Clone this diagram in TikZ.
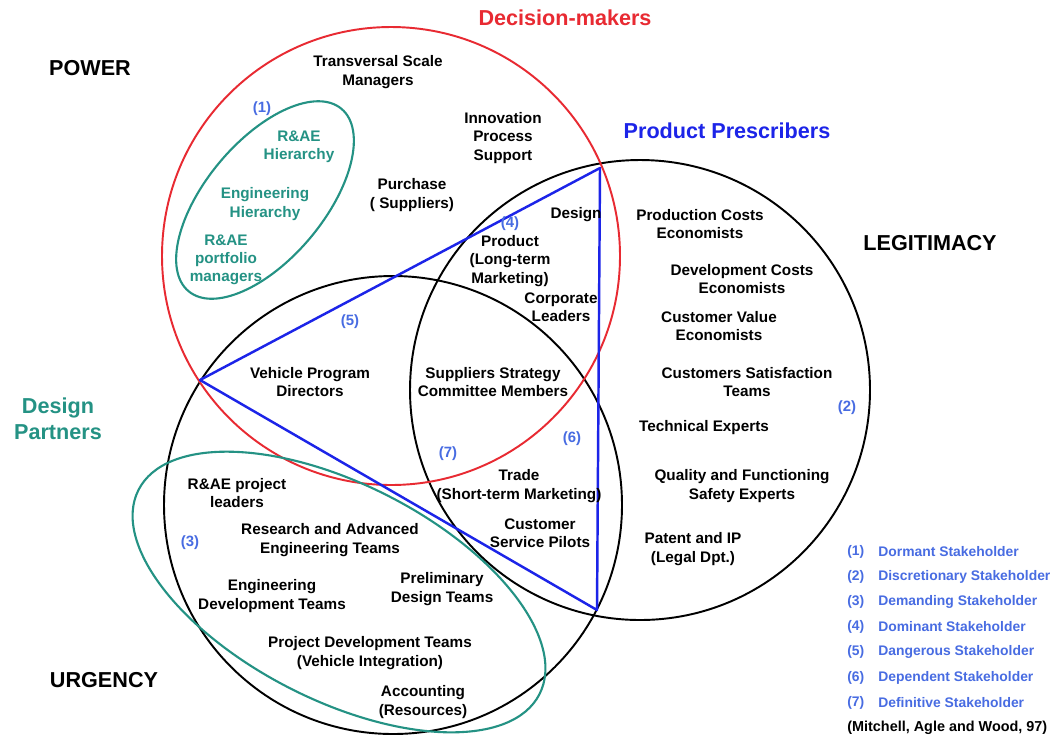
\documentclass[tikz,border=0pt]{standalone}
\usepackage{fontspec}
\setmainfont{Liberation Sans}
\usepackage{tikz}
\usetikzlibrary{arrows.meta}

\definecolor{powerred}{RGB}{232,42,50}
\definecolor{partnerteal}{RGB}{36,146,132}
\definecolor{prescblue}{RGB}{28,36,232}
\definecolor{typeblue}{RGB}{72,108,226}

\begin{document}
\begin{tikzpicture}[x=0.02cm, y=0.02cm,
    actor/.style={align=center, inner sep=0pt, font=\fontsize{8.7}{10.4}\selectfont\bfseries},
    attr/.style={align=center, inner sep=0pt, font=\fontsize{12.3}{14.7}\selectfont\bfseries},
    typenum/.style={inner sep=0pt, text=typeblue, font=\fontsize{8.5}{10}\selectfont\bfseries},
    legend/.style={anchor=west, inner sep=0pt, text=typeblue, font=\fontsize{7.9}{9}\selectfont\bfseries}]

    %% Background
    \useasboundingbox[fill=white] (0,0) rectangle (1053,-738);

    % Attribute circles
    \draw[line width=1.1pt] (640,-390) circle (230);
    \draw[line width=1.1pt] (393,-505) circle (229);
    \draw[powerred, line width=1.1pt] (391,-256) circle (229);

    % Design partners
    \draw[partnerteal, line width=1.2pt, rotate around={50:(265,-200)}]
    (265,-200) ellipse [x radius=119, y radius=59];
    \draw[partnerteal, line width=1.2pt, rotate around={-27:(339,-592)}]
    (339,-592) ellipse [x radius=225, y radius=108];

    % Product prescribers
    \coordinate (top) at (600,-168);
    \coordinate (left) at (200,-380);
    \coordinate (bottom) at (597,-610);
    \draw[prescblue, line width=1.4pt, line join=round] (top) -- (left) -- (bottom) -- cycle;

    % Attributes
    \node[attr, text=powerred] (decision) at (565,-18) {Decision-makers};
    \node[attr] (power) at (90,-68) {POWER};
    \node[attr, text=prescblue] (prescribers) at (727,-131) {Product Prescribers};
    \node[attr] (legitimacy) at (930,-243) {LEGITIMACY};
    \node[attr, text=partnerteal] (partners) at (58,-419) {Design\\Partners};
    \node[attr] (urgency) at (104,-680) {URGENCY};

    % Power
    \node[actor] (transversal) at (378,-72) {Transversal Scale\\Managers};
    \node[actor] (innovation) at (503,-138) {Innovation\\Process\\Support};
    \node[actor] (purchase) at (412,-195) {Purchase\\( Suppliers)};
    \node[actor, text=partnerteal] (raehier) at (299,-147) {R\&AE\\Hierarchy};
    \node[actor, text=partnerteal] (enghier) at (265,-204) {Engineering\\Hierarchy};
    \node[actor, text=partnerteal] (portfolio) at (226,-260) {R\&AE\\portfolio\\managers};

    % Power and legitimacy
    \node[actor] (design) at (576,-215) {Design};
    \node[actor] (product) at (510,-261) {Product\\(Long-term\\Marketing)};
    \node[actor] (corporate) at (561,-307) {Corporate\\Leaders};

    % Legitimacy
    \node[actor] (prodcost) at (700,-224) {Production Costs\\Economists};
    \node[actor] (devcost) at (742,-279) {Development Costs\\Economists};
    \node[actor] (custvalue) at (719,-326) {Customer Value\\Economists};
    \node[actor] (satisfaction) at (747,-382) {Customers Satisfaction\\Teams};
    \node[actor] (technical) at (704,-428) {Technical Experts};
    \node[actor] (quality) at (742,-486) {Quality and Functioning\\Safety Experts};
    \node[actor] (patent) at (693,-549) {Patent and IP\\(Legal Dpt.)};

    % Power and urgency
    \node[actor] (vehicle) at (310,-382) {Vehicle Program\\Directors};
    \node[actor] (committee) at (493,-382) {Suppliers Strategy\\Committee Members};

    % Legitimacy and urgency
    \node[actor] (trade) at (519,-486) {Trade\\(Short-term Marketing)};
    \node[actor] (pilots) at (540,-533) {Customer\\Service Pilots};

    % Urgency
    \node[actor] (projleaders) at (237,-493) {R\&AE project\\leaders};
    \node[actor] (research) at (330,-540) {Research and Advanced\\Engineering Teams};
    \node[actor] (engdev) at (272,-596) {Engineering\\Development Teams};
    \node[actor] (prelim) at (442,-589) {Preliminary\\Design Teams};
    \node[actor] (projdev) at (370,-653) {Project Development Teams\\(Vehicle Integration)};
    \node[actor] (accounting) at (423,-702) {Accounting\\(Resources)};

    % Stakeholder types
    \node[typenum] (t1) at (262,-109) {(1)};
    \node[typenum] (t2) at (847,-408) {(2)};
    \node[typenum] (t3) at (190,-543) {(3)};
    \node[typenum] (t4) at (510,-224) {(4)};
    \node[typenum] (t5) at (350,-322) {(5)};
    \node[typenum] (t6) at (572,-439) {(6)};
    \node[typenum] (t7) at (448,-454) {(7)};

    % Legend
    \node[legend] (n1) at (847,-552) {(1)};
    \node[legend] (k1) at (878,-552) {Dormant Stakeholder};
    \node[legend] (n2) at (847,-577) {(2)};
    \node[legend] (k2) at (878,-577) {Discretionary Stakeholder};
    \node[legend] (n3) at (847,-602) {(3)};
    \node[legend] (k3) at (878,-602) {Demanding Stakeholder};
    \node[legend] (n4) at (847,-627) {(4)};
    \node[legend] (k4) at (878,-627) {Dominant Stakeholder};
    \node[legend] (n5) at (847,-652) {(5)};
    \node[legend] (k5) at (878,-652) {Dangerous Stakeholder};
    \node[legend] (n6) at (847,-678) {(6)};
    \node[legend] (k6) at (878,-678) {Dependent Stakeholder};
    \node[legend] (n7) at (847,-703) {(7)};
    \node[legend] (k7) at (878,-703) {Definitive Stakeholder};
    \node[legend, text=black, font=\fontsize{8.2}{9}\selectfont\bfseries] (source) at (847,-728)
    {(Mitchell, Agle and Wood, 97)};

\end{tikzpicture}
\end{document}
